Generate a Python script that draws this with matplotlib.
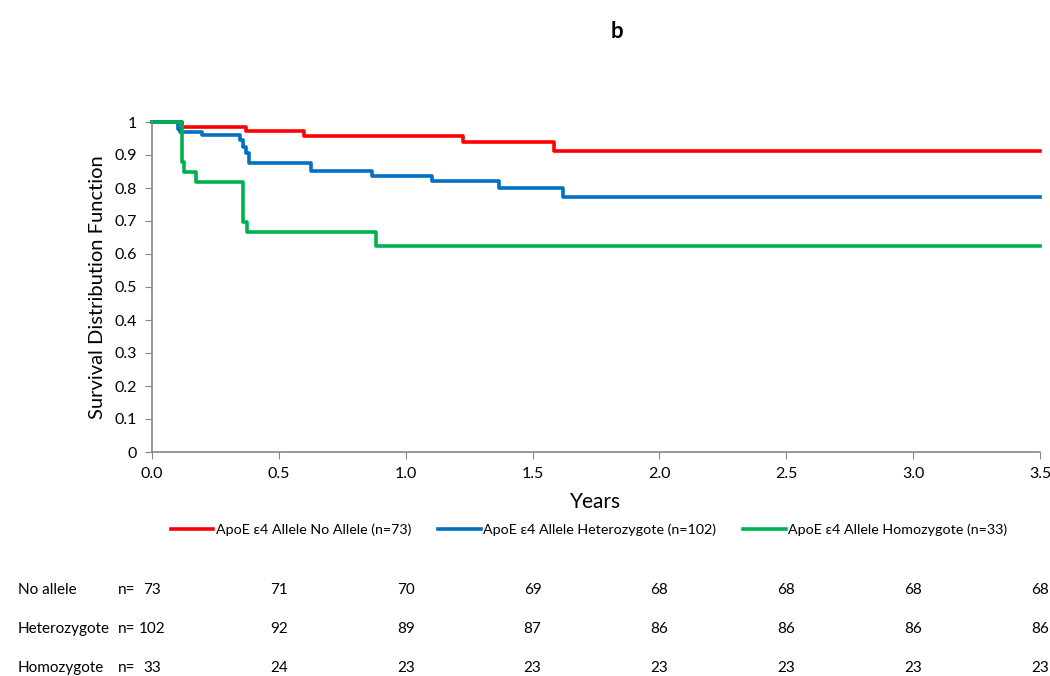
import matplotlib.pyplot as plt
import matplotlib.transforms as mtransforms
import numpy as np

plt.rcParams['font.family'] = ['Lato', 'DejaVu Sans']

# Kaplan-Meier step curves (time in years, survival)
no_allele_t = [0, 0.117, 0.369, 0.60, 1.227, 1.586, 3.5]
no_allele_s = [1, 0.986, 0.973, 0.959, 0.938, 0.912, 0.912]

hetero_t = [0, 0.104, 0.11, 0.196, 0.347, 0.36, 0.37, 0.384, 0.627, 0.866, 1.104, 1.367, 1.619, 3.5]
hetero_s = [1, 0.98, 0.971, 0.961, 0.945, 0.925, 0.905, 0.877, 0.851, 0.837, 0.822, 0.799, 0.773, 0.773]

homo_t = [0, 0.117, 0.126, 0.173, 0.357, 0.373, 0.882, 3.5]
homo_s = [1, 0.879, 0.848, 0.818, 0.697, 0.667, 0.623, 0.623]

labels = ["ApoE \u03b54 Allele No Allele (n=73)",
          "ApoE \u03b54 Allele Heterozygote (n=102)",
          "ApoE \u03b54 Allele Homozygote (n=33)"]
colors = ["#FF0000", "#0070C0", "#00B050"]

# numbers at risk
risk_times = [0, 0.5, 1.0, 1.5, 2.0, 2.5, 3.0, 3.5]
risk_rows = ["No allele", "Heterozygote", "Homozygote"]
risk_no_allele = [73, 71, 70, 69, 68, 68, 68, 68]
risk_hetero = [102, 92, 89, 87, 86, 86, 86, 86]
risk_homo = [33, 24, 23, 23, 23, 23, 23, 23]

fig = plt.figure(figsize=(10.5, 6.76), dpi=100)
ax = fig.add_axes([152 / 1050, 1 - 452 / 676, (1040 - 152) / 1050, 330 / 676])

curves = [(no_allele_t, no_allele_s), (hetero_t, hetero_s), (homo_t, homo_s)]
for (t, s), c, lab in zip(curves, colors, labels):
    ax.step(t, s, where='post', color=c, lw=2.6, label=lab, clip_on=False)

ax.set_xlim(0, 3.5)
ax.set_ylim(0, 1)
ax.set_xticks(np.arange(0, 3.51, 0.5))
ax.set_xticklabels([f"{v:.1f}" for v in np.arange(0, 3.51, 0.5)])
ax.set_yticks(np.arange(0, 1.01, 0.1))
ax.set_yticklabels(["0"] + [f"{v:.1f}" for v in np.arange(0.1, 0.95, 0.1)] + ["1"])
for sp in ["top", "right"]:
    ax.spines[sp].set_visible(False)
for sp in ["left", "bottom"]:
    ax.spines[sp].set_color("#868686")
    ax.spines[sp].set_linewidth(1.2)
ax.tick_params(direction='out', length=5, color="#868686", labelsize=11.5, pad=6)
ax.set_ylabel("Survival Distribution Function", fontsize=14.5, labelpad=6)
ax.set_xlabel("Years", fontsize=15, labelpad=8)

fig.text(0.588, 1 - 32 / 676, "b", fontsize=16, fontweight='bold', ha='center', va='center')

fig.legend(loc='center', bbox_to_anchor=(0.561, 1 - 530 / 676), ncol=3, frameon=False,
           fontsize=10.3, handlelength=3.0, handletextpad=0.15, columnspacing=1.9)

# at-risk table
trans = mtransforms.blended_transform_factory(ax.transData, fig.transFigure)
row_y = [1 - 590 / 676, 1 - 629 / 676, 1 - 668 / 676]
for name, vals, y in zip(risk_rows, [risk_no_allele, risk_hetero, risk_homo], row_y):
    fig.text(18 / 1050, y, name, fontsize=11, va='center', ha='left')
    fig.text(118 / 1050, y, "n=", fontsize=11, va='center', ha='left')
    for t, v in zip(risk_times, vals):
        ax.text(t, y, str(v), transform=trans, fontsize=11, va='center', ha='center')

fig.savefig("out.png", dpi=100)
